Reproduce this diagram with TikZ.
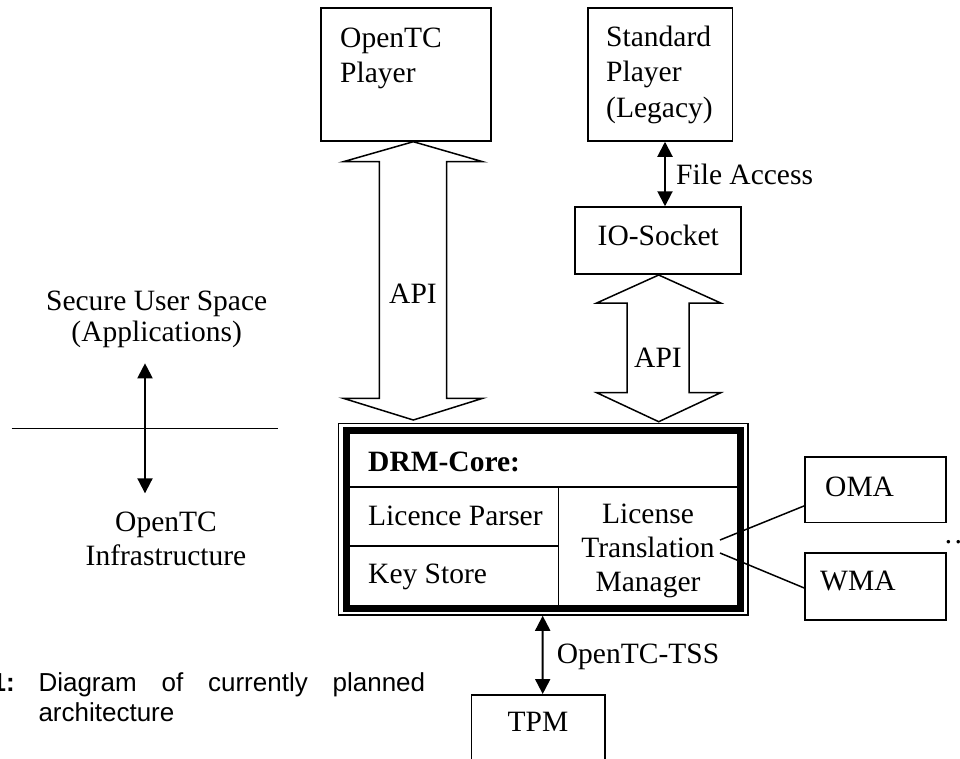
\documentclass[tikz,border=0pt]{standalone}
\usepackage{fontspec}
\setmainfont{Liberation Serif}
\newfontfamily\capfont{Liberation Sans}
\usetikzlibrary{arrows.meta,calc}
\begin{document}
\begin{tikzpicture}[x=1pt,y=-1pt,
  box/.style={draw, line width=1.5pt, inner sep=0pt},
  lbl/.style={inner sep=0pt, font=\fontsize{29.5}{35}\selectfont},
  caplbl/.style={inner sep=0pt, font=\capfont\fontsize{26}{30}\selectfont},
  dbl/.style={line width=2pt, {Triangle[length=15pt,width=15pt]}-{Triangle[length=15pt,width=15pt]}},
  fat/.style={draw, line width=1.5pt, line join=miter},
  thin/.style={line width=1.5pt},
]
\useasboundingbox (0,0) rectangle (960,758);

% boxes
\node[box, minimum width=170pt, minimum height=133pt] (op) at (406,74.5) {};
\node[box, minimum width=144.7pt, minimum height=133pt] (sp) at (660.35,74.5) {};
\node[box, minimum width=166pt, minimum height=67pt] (io) at (658,240.5) {};
\node[box, minimum width=409.7pt, minimum height=191.7pt] (drm) at (543.15,519.15) {};
\node[box, minimum width=141pt, minimum height=65.7pt] (oma) at (875.5,489.85) {};
\node[box, minimum width=141pt, minimum height=67pt] (wma) at (875.5,586.5) {};
\node[box, minimum width=133.3pt, minimum height=100pt, anchor=north] (tpm) at (538.35,694) {};

% DRM-Core inner structure
\draw[line width=7.5pt, line join=miter] (346.25,430.5) rectangle (740.25,608.25);
\draw[thin] (350,487) -- (736.5,487);
\draw[thin] (558.3,487) -- (558.3,604.5);
\draw[thin] (350,546) -- (558.3,546);

% texts
\node[lbl, anchor=base west] (opt1) at (340,47) {OpenTC};
\node[lbl, anchor=base west] (opt2) at (340,82) {Player};
\node[lbl, anchor=base west] (spt1) at (606,46) {Standard};
\node[lbl, anchor=base west] (spt2) at (606,81) {Player};
\node[lbl, anchor=base west] (spt3) at (606,117) {(Legacy)};
\node[lbl, anchor=base west] (fa) at (676,184) {File Access};
\node[lbl, anchor=base] (iot) at (658.3,245) {IO-Socket};
\node[lbl, anchor=base] (api1) at (413,303) {API};
\node[lbl, anchor=base] (api2) at (658,367) {API};
\node[lbl, anchor=base west] (drmt) at (368,471.7) {\bfseries DRM-Core:};
\node[lbl, anchor=base west] (lp) at (368,525) {Licence Parser};
\node[lbl, anchor=base west] (ks) at (368,583.3) {Key Store};
\node[lbl, anchor=base] (ltm1) at (648,523.3) {License};
\node[lbl, anchor=base] (ltm2) at (648,557.3) {Translation};
\node[lbl, anchor=base] (ltm3) at (648,591.7) {Manager};
\node[lbl, anchor=base west] (omat) at (825,496.7) {OMA};
\node[lbl, anchor=base west] (wmat) at (820,590) {WMA};
\node[lbl, anchor=base west] (dots) at (943.4,543) {…};
\node[lbl, anchor=base west] (tss) at (556.7,663) {OpenTC-TSS};
\node[lbl, anchor=base] (tpmt) at (538,731.7) {TPM};
\node[lbl, anchor=base] (sus1) at (156.7,310) {Secure User Space};
\node[lbl, anchor=base] (sus2) at (156.7,341.7) {(Applications)};
\node[lbl, anchor=base] (inf1) at (166,531.7) {OpenTC};
\node[lbl, anchor=base] (inf2) at (166,565) {Infrastructure};

% caption
\node[caplbl, anchor=base east] (capn) at (15,691.7) {\bfseries 1:};
\node[caplbl, anchor=base west] (cap1) at (38.3,691.7) {\hbox to 386.7pt{Diagram\hfill of\hfill currently\hfill planned}};
\node[caplbl, anchor=base west] (cap2) at (38.3,721.7) {architecture};

% fat API arrows
\draw[fat] (413.3,141.7) -- (482.7,161.7) -- (446.7,161.7) -- (446.7,398.3) -- (482.7,398.3)
  -- (413.3,420) -- (343.3,398.3) -- (379.3,398.3) -- (379.3,161.7) -- (343.3,161.7) -- cycle;
\draw[fat] (658.7,275) -- (720.7,303) -- (689,303) -- (689,392.7) -- (720.7,392.7)
  -- (658.7,421.7) -- (596.7,392.7) -- (627,392.7) -- (627,303) -- (596.7,303) -- cycle;

% connectors
\draw[dbl] ($(sp.south)+(4.65,0)$) -- ($(io.north)+(7,0)$);
\draw[dbl] ($(drm.south)+(-0.45,0)$) -- ($(tpm.north)+(4.35,0)$);
\coordinate (up) at (145,363.3);
\coordinate (down) at (145,493.3);
\draw[dbl] (up) -- (down);
\coordinate (hl) at (11.7,428.3);
\coordinate (hr) at (278.3,428.3);
\draw[thin] (hl) -- (hr);
\coordinate (tr1) at (720,540);
\coordinate (tr2) at (720,553);
\draw[thin] (tr1) -- ($(oma.west)+(0,16)$);
\draw[thin] (tr2) -- ($(wma.west)+(0,1.5)$);
\end{tikzpicture}
\end{document}
